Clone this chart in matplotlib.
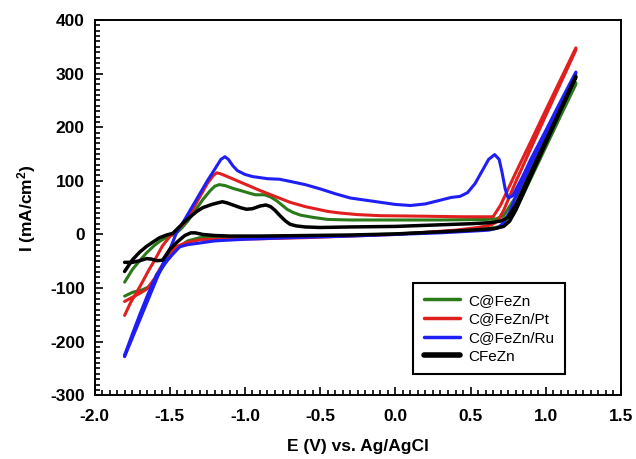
import numpy as np
import matplotlib
matplotlib.use('Agg')
import matplotlib.pyplot as plt
from matplotlib.ticker import MultipleLocator, FormatStrFormatter

# Cyclic voltammograms
# forward (anodic) sweep and reverse sweep for every electrode

green_fwd_E = [-1.8, -1.747, -1.7, -1.653, -1.6, -1.567, -1.52, -1.48, -1.45, -1.42, -1.38, -1.33,
               -1.28, -1.23, -1.2, -1.17, -1.13, -1.08, -1.03, -0.97, -0.93, -0.87, -0.83, -0.79,
               -0.75, -0.72, -0.68, -0.63, -0.55, -0.45, -0.3, 0.0, 0.3, 0.6, 0.67, 0.72, 0.8,
               0.9, 1.0, 1.1, 1.2]
green_fwd_I = [-89, -65, -49, -34, -20, -13, -5, -1, 4, 12, 25, 45,
               65, 82, 90, 93, 91, 86, 82, 77, 74, 74, 70, 63,
               54, 47, 41, 36, 32, 28, 27, 27, 27, 28, 29, 35, 70,
               125, 178, 230, 283]
green_rev_E = [1.2, 1.1, 1.0, 0.9, 0.8, 0.75, 0.7, 0.6, 0.3, 0.0, -0.3, -0.6, -0.9, -1.2, -1.3,
               -1.38, -1.433, -1.47, -1.5, -1.533, -1.567, -1.6, -1.633, -1.68, -1.747, -1.8]
green_rev_I = [280, 222, 163, 104, 45, 25, 15, 10, 5, 1, -2, -4, -5, -5, -6,
               -12, -22, -32, -41, -55, -71, -85, -97, -103, -108, -115]

red_fwd_E = [-1.8, -1.76, -1.72, -1.68, -1.64, -1.6, -1.55, -1.5, -1.45, -1.4, -1.35, -1.3,
             -1.25, -1.21, -1.187, -1.16, -1.1, -1.0, -0.9, -0.8, -0.7, -0.6, -0.45, -0.367,
             -0.25, -0.1, 0.2, 0.45, 0.65, 0.7, 0.8, 0.9, 1.0, 1.1, 1.2]
red_fwd_I = [-151, -127, -108, -88, -67, -48, -22, -4, 8, 22, 45, 70,
             95, 110, 115, 113, 106, 94, 82, 71, 60, 52, 43, 40,
             37, 35, 34, 33, 33, 55, 115, 173, 232, 290, 348]
red_rev_E = [1.2, 1.1, 1.0, 0.9, 0.8, 0.72, 0.68, 0.64, 0.55, 0.4, 0.2, 0.0, -0.3, -0.6, -0.9,
             -1.2, -1.3, -1.387, -1.45, -1.5, -1.53, -1.567, -1.6, -1.653, -1.7, -1.747, -1.8]
red_rev_I = [344, 283, 222, 160, 98, 45, 25, 18, 13, 8, 4, 0, -3, -6, -8,
             -9, -10, -15, -22, -34, -48, -65, -82, -102, -110, -117, -125]

blue_fwd_E = [-1.8, -1.7, -1.6, -1.55, -1.5, -1.455, -1.4, -1.35, -1.3, -1.25, -1.2, -1.16,
              -1.133, -1.11, -1.08, -1.05, -1.0, -0.95, -0.9, -0.85, -0.77, -0.7, -0.6, -0.5,
              -0.4, -0.3, -0.2, -0.1, 0.0, 0.1, 0.2, 0.3, 0.37, 0.43, 0.48, 0.53, 0.58, 0.62,
              0.66, 0.69, 0.71, 0.73, 0.75, 0.78, 0.85, 0.9, 1.0, 1.1, 1.2]
blue_fwd_I = [-228, -160, -92, -58, -28, 3, 28, 52, 76, 100, 122, 140,
              145, 140, 128, 119, 112, 108, 106, 104, 103, 99, 93, 85,
              76, 68, 64, 60, 56, 54, 57, 64, 69, 71, 78, 95, 120, 140,
              149, 140, 115, 85, 68, 72, 110, 140, 194, 249, 303]
blue_rev_E = [1.2, 1.1, 1.0, 0.9, 0.8, 0.76, 0.72, 0.68, 0.62, 0.5, 0.3, 0.0, -0.3, -0.7, -1.0,
              -1.2, -1.3, -1.38, -1.433, -1.48, -1.52, -1.587, -1.65, -1.7, -1.75, -1.8]
blue_rev_I = [300, 244, 188, 130, 70, 42, 22, 12, 8, 6, 3, 0, -3, -6, -9,
              -12, -16, -19, -23, -37, -50, -75, -115, -150, -187, -225]

black_fwd_E = [-1.8, -1.747, -1.7, -1.653, -1.6, -1.567, -1.52, -1.48, -1.433, -1.4, -1.367, -1.32,
               -1.28, -1.22, -1.18, -1.15, -1.12, -1.08, -1.03, -0.99, -0.95, -0.9, -0.86, -0.83,
               -0.8, -0.767, -0.73, -0.7, -0.66, -0.6, -0.5, -0.3, 0.0, 0.3, 0.5, 0.63, 0.7,
               0.75, 0.8, 0.9, 1.0, 1.1, 1.2]
black_fwd_I = [-69, -47, -33, -22, -12, -6, -1, 2, 15, 24, 32, 43,
               50, 56, 59, 61, 59, 55, 50, 47, 48, 53, 55, 52,
               45, 35, 25, 19, 16, 14, 13, 14, 15, 18, 20, 22, 25,
               32, 55, 115, 175, 235, 295]
black_rev_E = [1.2, 1.1, 1.0, 0.9, 0.8, 0.76, 0.72, 0.66, 0.5, 0.3, 0.0, -0.3, -0.6, -0.9, -1.1,
               -1.2, -1.28, -1.33, -1.36, -1.4, -1.45, -1.5, -1.547, -1.587, -1.62, -1.653,
               -1.7, -1.747, -1.8]
black_rev_I = [293, 232, 170, 108, 45, 25, 15, 11, 8, 5, 1, -1, -2, -3, -3,
               -2, 0, 3, 3, -2, -14, -28, -48, -49, -46, -45,
               -49, -52, -52]

labels = ['C@FeZn', 'C@FeZn/Pt', 'C@FeZn/Ru', 'CFeZn']
colors = ['#2b7a1a', '#e01f1f', '#1f1ff5', '#000000']

plt.rcParams['font.family'] = ['Liberation Sans', 'DejaVu Sans']
plt.rcParams['font.weight'] = 'bold'
plt.rcParams['axes.unicode_minus'] = False
plt.rcParams['mathtext.fontset'] = 'custom'
plt.rcParams['mathtext.rm'] = 'Liberation Sans:bold'
plt.rcParams['mathtext.bf'] = 'Liberation Sans:bold'
plt.rcParams['mathtext.it'] = 'Liberation Sans:bold'

fig = plt.figure(figsize=(6.36, 4.59), dpi=100)
ax = fig.add_axes([0.1486, 0.1388, 0.8278, 0.8176])

curves = [(green_fwd_E, green_fwd_I, green_rev_E, green_rev_I),
          (red_fwd_E, red_fwd_I, red_rev_E, red_rev_I),
          (blue_fwd_E, blue_fwd_I, blue_rev_E, blue_rev_I),
          (black_fwd_E, black_fwd_I, black_rev_E, black_rev_I)]

for i, (fe, fi, re_, ri) in enumerate(curves):
    lw = 2.5 if i == 3 else 2.2
    E = np.concatenate([fe, re_])
    I = np.concatenate([fi, ri])
    ax.plot(E, I, color=colors[i], lw=lw, label=labels[i],
            solid_joinstyle='round', solid_capstyle='round')

ax.set_xlim(-2.0, 1.5)
ax.set_ylim(-300, 400)
ax.xaxis.set_major_locator(MultipleLocator(0.5))
ax.xaxis.set_minor_locator(MultipleLocator(0.05))
ax.yaxis.set_major_locator(MultipleLocator(100))
ax.yaxis.set_minor_locator(MultipleLocator(10))
ax.xaxis.set_major_formatter(FormatStrFormatter('%.1f'))
ax.yaxis.set_major_formatter(FormatStrFormatter('%d'))

ax.tick_params(which='both', direction='in', top=False, right=False, width=1.2)
ax.tick_params(which='major', length=6, labelsize=12.5)
ax.tick_params(which='minor', length=3.5)
ax.tick_params(axis='x', pad=10)
ax.tick_params(axis='y', pad=7)
for s in ax.spines.values():
    s.set_linewidth(1.4)

ax.set_xlabel('E (V) vs. Ag/AgCl', fontsize=12.5, fontweight='bold', labelpad=11)
ax.set_ylabel('I (mA/cm$^{2}$)', fontsize=12.5, fontweight='bold', labelpad=9)

leg = ax.legend(loc='upper left', bbox_to_anchor=(0.605, 0.299), borderaxespad=0,
                fancybox=False, edgecolor='black', framealpha=1,
                prop={'family': 'Liberation Sans', 'weight': 'normal', 'size': 11},
                handlelength=2.35, handletextpad=0.55, labelspacing=0.3, borderpad=0.7)
leg.get_frame().set_linewidth(1.5)
for j, ln in enumerate(leg.get_lines()):
    ln.set_linewidth(4.0 if j == 3 else 2.5)

fig.savefig('out.png', dpi=100)
